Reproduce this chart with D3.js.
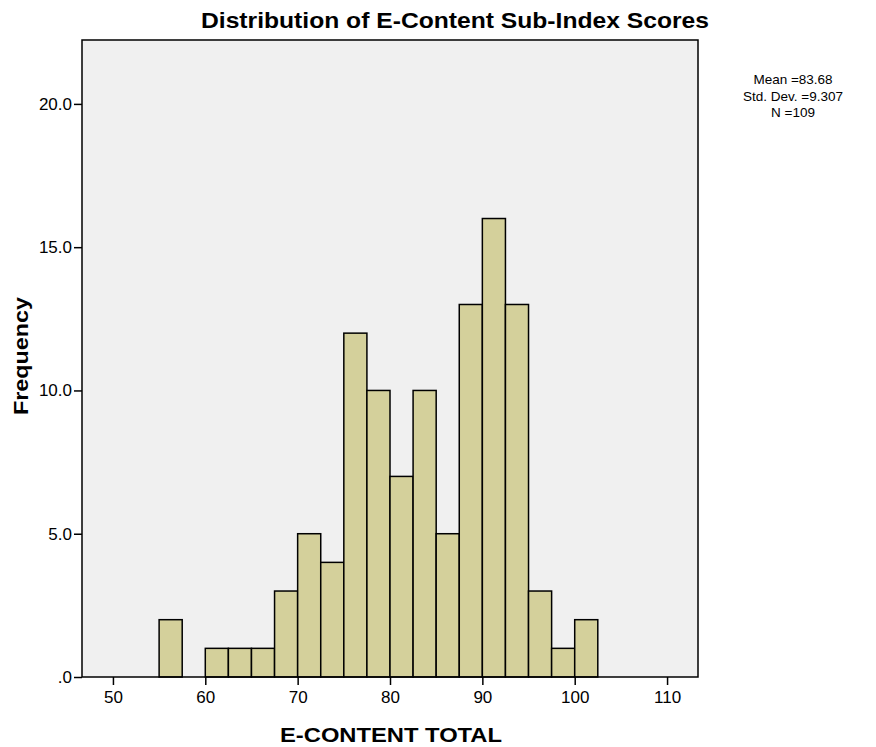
<!DOCTYPE html>
<html>
<head>
<meta charset="utf-8">
<script src="https://cdn.jsdelivr.net/npm/d3@7"></script>
<style>
  body { margin: 0; background: #fff; }
  text { font-family: "Liberation Sans", Arial, sans-serif; }
</style>
</head>
<body>
<div id="chart"></div>
<script>
// histogram bins (lower edge, width 2.5) and counts
var binStarts = [55, 57.5, 60, 62.5, 65, 67.5, 70, 72.5, 75, 77.5, 80, 82.5, 85, 87.5, 90, 92.5, 95, 97.5, 100];
var counts    = [2, 0, 1, 1, 1, 3, 5, 4, 12, 10, 7, 10, 5, 13, 16, 13, 3, 1, 2];
var binWidth = 2.5;
var xTicks = [50, 60, 70, 80, 90, 100, 110];
var yTicks = [0, 5, 10, 15, 20];
var statLines = ["Mean =83.68", "Std. Dev. =9.307", "N =109"];

var margin = {top: 40, right: 178, bottom: 70, left: 82},
    width = 876 - margin.left - margin.right,
    height = 747 - margin.top - margin.bottom;

var svg = d3.select("#chart")
  .append("svg")
    .attr("width", 876)
    .attr("height", 747);

var g = svg.append("g")
    .attr("transform", "translate(" + margin.left + "," + margin.top + ")");

var x = d3.scaleLinear().domain([46.65, 113.35]).range([0, width]);
var y = d3.scaleLinear().domain([0, 22.23]).range([height, 0]);

// plot background
g.append("rect")
  .attr("width", width)
  .attr("height", height)
  .attr("fill", "#f0f0f0");

// bars
g.selectAll(".bar")
  .data(binStarts.map(function(s, i) { return {x0: s, n: counts[i]}; }).filter(function(d) { return d.n > 0; }))
  .enter().append("rect")
    .attr("x", function(d) { return x(d.x0); })
    .attr("y", function(d) { return y(d.n); })
    .attr("width", function(d) { return x(d.x0 + binWidth) - x(d.x0); })
    .attr("height", function(d) { return y(0) - y(d.n); })
    .attr("fill", "#d4d09b")
    .attr("stroke", "#000")
    .attr("stroke-width", 1.5);

// frame
g.append("rect")
  .attr("width", width)
  .attr("height", height)
  .attr("fill", "none")
  .attr("stroke", "#000")
  .attr("stroke-width", 1.5);

// x axis
var xAxis = g.append("g")
  .attr("transform", "translate(0," + height + ")")
  .call(d3.axisBottom(x).tickValues(xTicks).tickSize(8).tickPadding(6).tickFormat(d3.format("d")));
xAxis.select(".domain").remove();
xAxis.selectAll("line").attr("stroke-width", 1.5);
xAxis.selectAll("text").attr("font-size", 17).attr("fill", "#000");

// y axis
var yAxis = g.append("g")
  .call(d3.axisLeft(y).tickValues(yTicks).tickSize(8).tickPadding(2)
    .tickFormat(function(d) { return d === 0 ? ".0" : d3.format(".1f")(d); }));
yAxis.select(".domain").remove();
yAxis.selectAll("line").attr("stroke-width", 1.5);
yAxis.selectAll("text").attr("font-size", 17).attr("fill", "#000");

// title
svg.append("text")
  .attr("x", 455)
  .attr("y", 28)
  .attr("text-anchor", "middle")
  .attr("font-size", 22)
  .attr("font-weight", "bold")
  .attr("textLength", 508)
  .attr("lengthAdjust", "spacingAndGlyphs")
  .text("Distribution of E-Content Sub-Index Scores");

// x label
svg.append("text")
  .attr("x", 391)
  .attr("y", 742)
  .attr("text-anchor", "middle")
  .attr("font-size", 21)
  .attr("font-weight", "bold")
  .attr("textLength", 222)
  .attr("lengthAdjust", "spacingAndGlyphs")
  .text("E-CONTENT TOTAL");

// y label
svg.append("text")
  .attr("transform", "translate(28,356) rotate(-90)")
  .attr("text-anchor", "middle")
  .attr("font-size", 21)
  .attr("font-weight", "bold")
  .attr("textLength", 118)
  .attr("lengthAdjust", "spacingAndGlyphs")
  .text("Frequency");

// stats box
svg.append("g").selectAll("text")
  .data(statLines)
  .enter().append("text")
    .attr("x", 793)
    .attr("y", function(d, i) { return 84 + i * 16.5; })
    .attr("text-anchor", "middle")
    .attr("font-size", 13.5)
    .text(function(d) { return d; });
</script>
</body>
</html>
